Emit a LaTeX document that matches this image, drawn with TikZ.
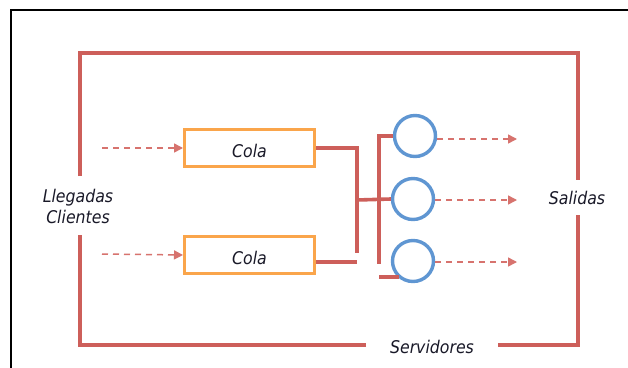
\documentclass[tikz,border=0pt]{standalone}
\usepackage{fontspec}
\setmainfont{DejaVu Sans}[FakeStretch=0.9]
\usetikzlibrary{arrows.meta,calc}
\definecolor{framered}{RGB}{205,95,90}
\definecolor{dashred}{RGB}{215,115,110}
\definecolor{qorange}{RGB}{250,165,75}
\definecolor{sblue}{RGB}{95,150,210}
\definecolor{txt}{RGB}{25,25,40}
\tikzset{
  frame/.style={draw=framered,line width=3.6pt},
  link/.style={draw=framered,line width=3.6pt},
  queue/.style={draw=qorange,line width=3pt,minimum width=130pt,minimum height=37pt,inner sep=0pt},
  server/.style={circle,draw=sblue,line width=3.4pt,minimum size=41pt,inner sep=0pt},
  flow/.style={draw=dashred,line width=1.5pt,dash pattern=on 6pt off 5pt,-{Triangle[length=9pt,width=9pt]}},
  lbl/.style={font=\fontsize{17.5}{21}\selectfont\itshape,text=txt,align=center,inner sep=0pt}
}
\begin{document}
\begin{tikzpicture}[x=1pt,y=-1pt]
\useasboundingbox (0,0) rectangle (628,367);
\fill[white] (0,0) rectangle (628,367);
% outer black frame
\draw[line width=1.5pt,black] (11,380) -- (11,10) -- (640,10);
% labels
\node[lbl] (lleg) at (78,206) {Llegadas\\Clientes};
\node[lbl] (sal) at (577,198) {Salidas};
\node[lbl] (serv) at (432,347) {Servidores};
% red frame with gaps
\coordinate (tl) at (80,53);
\coordinate (tr) at (578,53);
\coordinate (bl) at (80,345);
\coordinate (br) at (578,345);
\draw[frame] (80,176) -- (tl) -- (tr) -- (578,180);
\draw[frame] (578,215) -- (br) -- (498,345);
\draw[frame] (366,345) -- (bl) -- (80,235);
% queues
\node[queue] (q1) at (249.5,148) {};
\node[queue] (q2) at (249.5,255) {};
\node[lbl] at ($(q1.center)+(0,3)$) {Cola};
\node[lbl] at ($(q2.center)+(0,3)$) {Cola};
% servers
\node[server] (s1) at (415,136) {};
\node[server] (s2) at (413,199) {};
\node[server] (s3) at (413,261) {};
% input flows
\coordinate (in1) at (102,148);
\coordinate (in2) at (102,254);
\draw[flow] (in1) -- (q1.west);
\draw[flow] (in2) -- (q2.west);
% connectors
\coordinate (j1) at (357,148);
\coordinate (j1b) at (357,253);
\coordinate (j2) at (357,262);
\coordinate (jm) at (357,200);
\coordinate (vt) at (379,136);
\coordinate (vb) at (379,264);
\coordinate (st) at (379,277);
\coordinate (se) at (399,277);
\draw[link] (q1.east) -- (j1) -- (j1b);
\draw[link] ($(q2.east)+(0,7)$) -- (j2);
\draw[link] (jm) -- (s2.west);
\draw[link] (s1.west) -- (vt) -- (vb);
\draw[link] (st) -- (se);
% output flows
\coordinate (o1) at (517,139);
\coordinate (o2) at (517,200);
\coordinate (o3) at (517,262);
\draw[flow] ($(s1.east)+(0,3)$) -- (o1);
\draw[flow] ($(s2.east)+(0,1)$) -- (o2);
\draw[flow] ($(s3.east)+(0,1)$) -- (o3);
\end{tikzpicture}
\end{document}
